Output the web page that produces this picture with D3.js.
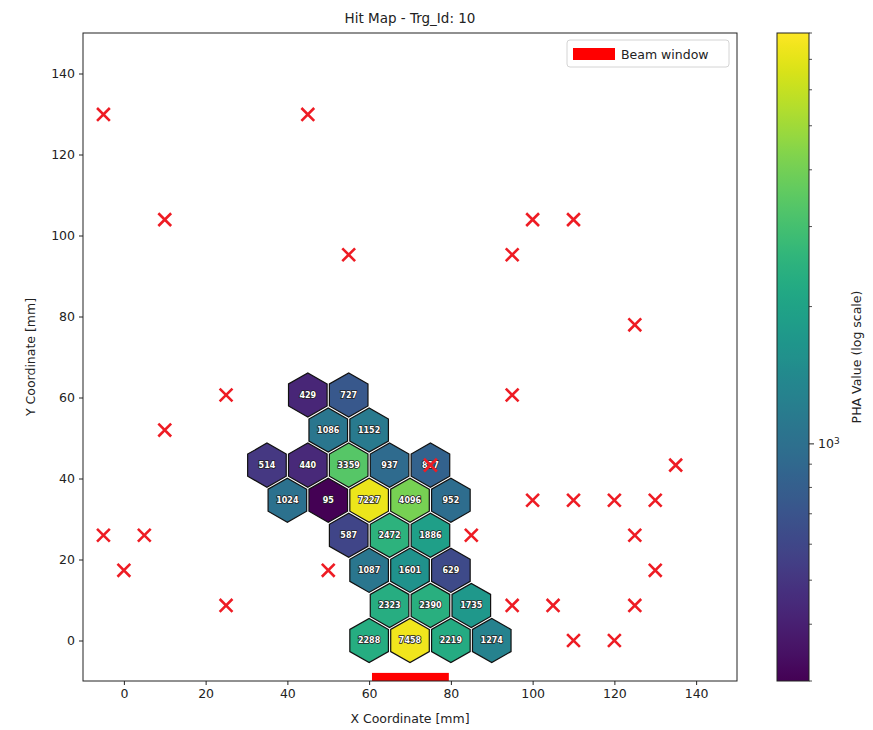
<!DOCTYPE html>
<html>
<head>
<meta charset="utf-8">
<script src="https://cdn.jsdelivr.net/npm/d3@7"></script>
<style>
  html, body { margin: 0; padding: 0; background: #fff; }
  svg { display: block; font-family: "DejaVu Sans", sans-serif; }
</style>
</head>
<body>
<svg id="chart" width="873" height="730"></svg>
<script>
// ---- data ----
const hexX = [60, 70, 80, 90, 65, 75, 85, 60, 70, 80, 55, 65, 75, 40, 50, 60, 70, 80, 35, 45, 55, 65, 75, 50, 60, 45, 55];
const hexY = [0, 0, 0, 0, 8.66, 8.66, 8.66, 17.32, 17.32, 17.32, 25.98, 25.98, 25.98,
              34.64, 34.64, 34.64, 34.64, 34.64, 43.3, 43.3, 43.3, 43.3, 43.3, 51.96, 51.96, 60.62, 60.62];
const hexPHA = [2288, 7458, 2219, 1274, 2323, 2390, 1735, 1087, 1601, 629, 587, 2472, 1886,
                1024, 95, 7227, 4096, 952, 514, 440, 3359, 937, 827, 1086, 1152, 429, 727];

const deadX = [-5, 45, 10, 55, 95, 100, 110, 125, 25, 10, 95, 135, 75, 100, 110, 120, 130,
               -5, 5, 85, 125, 0, 50, 130, 25, 95, 105, 125, 110, 120];
const deadY = [129.9, 129.9, 103.92, 95.26, 95.26, 103.92, 103.92, 77.94, 60.62, 51.96, 60.62, 43.3, 43.3,
               34.64, 34.64, 34.64, 34.64, 25.98, 25.98, 25.98, 25.98, 17.32, 17.32, 17.32,
               8.66, 8.66, 8.66, 8.66, 0, 0];

const beamWindow = [60.7, 79.5];
const xTicks = [0, 20, 40, 60, 80, 100, 120, 140];
const yTicks = [0, 20, 40, 60, 80, 100, 120, 140];
const cbMajorTicks = [1000];
const cbMinorTicks = [300, 400, 500, 600, 700, 800, 900, 2000, 3000, 4000, 5000, 6000, 7000, 8000];
const phaRange = [300, 8000];
const hexRadius = 5.45;

const title = "Hit Map - Trg_Id: 10";
const xLabel = "X Coordinate [mm]";
const yLabel = "Y Coordinate [mm]";
const cbLabel = "PHA Value (log scale)";
const legendLabel = "Beam window";

// ---- layout ----
const svg = d3.select("#chart");
const L = 83, R = 737, T = 33, B = 681;
const x = d3.scaleLinear().domain([-10, 150]).range([L, R]);
const y = d3.scaleLinear().domain([-10, 150]).range([B, T]);
const color = d3.scaleSequentialLog(d3.interpolateViridis).domain(phaRange).clamp(true);

const plot = svg.append("g");
plot.append("clipPath").attr("id", "clip").append("rect")
  .attr("x", L).attr("y", T).attr("width", R - L).attr("height", B - T);
const inner = plot.append("g").attr("clip-path", "url(#clip)");

// hexagons
const hexData = hexX.map((hx, i) => ({x: hx, y: hexY[i], v: hexPHA[i]}));
function hexPath(d) {
  const pts = d3.range(6).map(k => {
    const a = Math.PI / 180 * (60 * k + 30);
    return [x(d.x + hexRadius * Math.cos(a)), y(d.y + hexRadius * Math.sin(a))];
  });
  return "M" + pts.map(p => p.join(",")).join("L") + "Z";
}
inner.selectAll("path.hex").data(hexData).join("path")
  .attr("class", "hex")
  .attr("d", hexPath)
  .attr("fill", d => color(d.v))
  .attr("stroke", "#111")
  .attr("stroke-width", 1.2);

inner.selectAll("text.hexlab").data(hexData).join("text")
  .attr("class", "hexlab")
  .attr("x", d => x(d.x)).attr("y", d => y(d.y))
  .attr("dy", "0.35em")
  .attr("text-anchor", "middle")
  .attr("font-size", 8)
  .attr("font-weight", "bold")
  .attr("fill", "#fff")
  .attr("stroke", "#222")
  .attr("stroke-width", 1.6)
  .attr("paint-order", "stroke")
  .text(d => d.v);

// dead channel markers
const deadData = deadX.map((dx, i) => ({x: dx, y: deadY[i]}));
const ms = 6.4;
inner.selectAll("path.dead").data(deadData).join("path")
  .attr("class", "dead")
  .attr("d", d => {
    const cx = x(d.x), cy = y(d.y);
    return `M${cx - ms},${cy - ms}L${cx + ms},${cy + ms}M${cx - ms},${cy + ms}L${cx + ms},${cy - ms}`;
  })
  .attr("stroke", "#ee1c24")
  .attr("stroke-width", 2.6)
  .attr("fill", "none");

// beam window
inner.append("rect")
  .attr("x", x(beamWindow[0])).attr("width", x(beamWindow[1]) - x(beamWindow[0]))
  .attr("y", y(-8)).attr("height", y(-10) - y(-8))
  .attr("fill", "#ff0000");

// axes frame
plot.append("rect").attr("x", L).attr("y", T).attr("width", R - L).attr("height", B - T)
  .attr("fill", "none").attr("stroke", "#222").attr("stroke-width", 1);

const xAxis = svg.append("g").attr("transform", `translate(0,${B})`)
  .call(d3.axisBottom(x).tickValues(xTicks).tickSize(4).tickPadding(4));
const yAxis = svg.append("g").attr("transform", `translate(${L},0)`)
  .call(d3.axisLeft(y).tickValues(yTicks).tickSize(4).tickPadding(4));
[xAxis, yAxis].forEach(a => {
  a.select(".domain").remove();
  a.selectAll("text").attr("font-size", 12.5).attr("fill", "#222").attr("font-family", "DejaVu Sans, sans-serif");
  a.selectAll("line").attr("stroke", "#222");
});

// labels
svg.append("text").attr("x", (L + R) / 2).attr("y", 23).attr("text-anchor", "middle")
  .attr("font-size", 13.5).attr("fill", "#222").text(title);
svg.append("text").attr("x", (L + R) / 2).attr("y", 723).attr("text-anchor", "middle")
  .attr("font-size", 12.5).attr("fill", "#222").text(xLabel);
svg.append("text").attr("transform", `translate(35,${(T + B) / 2}) rotate(-90)`).attr("text-anchor", "middle")
  .attr("font-size", 12.5).attr("fill", "#222").text(yLabel);

// legend
const lg = svg.append("g");
lg.append("rect").attr("x", 567).attr("y", 40).attr("width", 162).attr("height", 27)
  .attr("rx", 3).attr("fill", "#fff").attr("stroke", "#d4d4d4").attr("stroke-width", 1);
lg.append("rect").attr("x", 573).attr("y", 48).attr("width", 42).attr("height", 12).attr("fill", "#ff0000");
lg.append("text").attr("x", 621).attr("y", 58.5).attr("font-size", 12.5).attr("fill", "#222").text(legendLabel);

// colorbar
const CL = 777, CR = 809;
const cy = d3.scaleLog().domain(phaRange).range([B, T]);
const defs = svg.append("defs");
const grad = defs.append("linearGradient").attr("id", "cbgrad")
  .attr("x1", 0).attr("y1", 1).attr("x2", 0).attr("y2", 0);
d3.range(0, 1.0001, 0.02).forEach(t => {
  grad.append("stop").attr("offset", t).attr("stop-color", d3.interpolateViridis(t));
});
svg.append("rect").attr("x", CL).attr("y", T).attr("width", CR - CL).attr("height", B - T)
  .attr("fill", "url(#cbgrad)").attr("stroke", "#222").attr("stroke-width", 1);
const cbAx = svg.append("g").attr("transform", `translate(${CR},0)`);
cbAx.call(d3.axisRight(cy).tickValues(cbMajorTicks).tickSize(5).tickPadding(4).tickFormat(() => ""));
cbAx.select(".domain").remove();
cbAx.selectAll("line").attr("stroke", "#222");
cbAx.selectAll(".tick").append("text")
  .attr("x", 9).attr("dy", "0.35em").attr("fill", "#222").attr("font-size", 12.5)
  .attr("font-family", "DejaVu Sans, sans-serif").attr("text-anchor", "start")
  .html(d => "10<tspan dy='-0.45em' font-size='9'>" + Math.round(Math.log10(d)) + "</tspan>");
cbAx.selectAll("line.minor").data(cbMinorTicks).join("line").attr("class", "minor")
  .attr("x1", 0).attr("x2", 3).attr("y1", d => cy(d)).attr("y2", d => cy(d))
  .attr("stroke", "#222").attr("stroke-width", 0.8);
svg.append("text").attr("transform", `translate(861,${(T + B) / 2}) rotate(-90)`).attr("text-anchor", "middle")
  .attr("font-size", 12.5).attr("fill", "#222").text(cbLabel);
</script>
</body>
</html>
